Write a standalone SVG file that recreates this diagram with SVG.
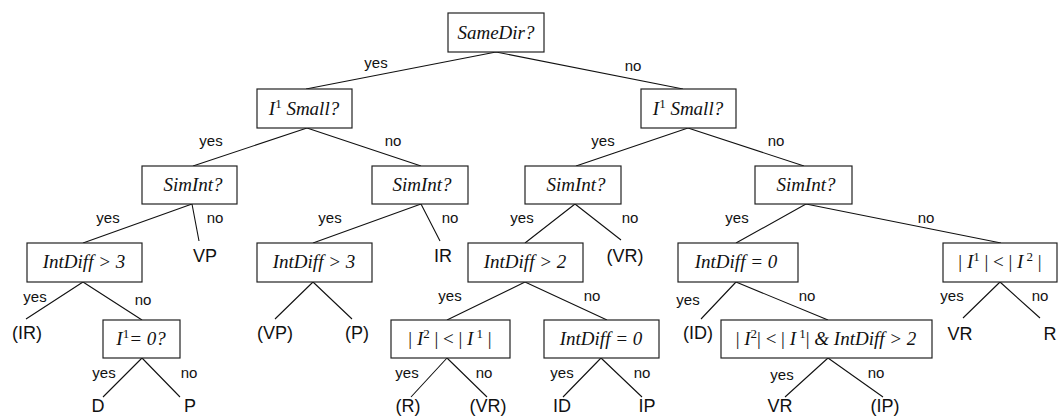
<svg xmlns="http://www.w3.org/2000/svg" width="1058" height="416" viewBox="0 0 1058 416">
  <style>
    .box { fill: #fff; stroke: #222; stroke-width: 1.2; }
    .q { font-family: "Liberation Serif", "Times New Roman", serif; font-style: italic; font-size: 19px; fill: #111; text-anchor: middle; }
    .up { font-style: normal; fill: #111; }
    .sup { font-style: normal; font-size: 13px; }
    .lbl { font-family: "Liberation Sans", Arial, sans-serif; font-size: 15px; fill: #111; text-anchor: middle; }
    .leaf { font-family: "Liberation Sans", Arial, sans-serif; font-size: 18px; fill: #111; text-anchor: middle; }
    .edge { stroke: #111; stroke-width: 1.1; fill: none; }
  </style>
  <rect width="1058" height="416" fill="#fff"/>

  <!-- connectors -->
  <g id="connectors" class="edge">
    <path d="M496 52 L306 89 M496 52 L683 89"/>
    <path d="M307 128 L193 166 M307 128 L421 166"/>
    <path d="M688 128 L576 166 M688 128 L804 166"/>
    <path d="M192 204 L83 243 M192 204 L199 241"/>
    <path d="M421 204 L313 243 M421 204 L440 241"/>
    <path d="M575 204 L525 243 M575 204 L621 240"/>
    <path d="M806 204 L736 243 M806 204 L1001 243"/>
    <path d="M83 282 L26 319 M83 282 L142 320"/>
    <path d="M313 282 L275 319 M313 282 L352 319"/>
    <path d="M525 282 L447 320 M525 282 L607 320"/>
    <path d="M736 282 L701 319 M736 282 L828 320"/>
    <path d="M1000 282 L963 318 M1000 282 L1040 318"/>
    <path d="M142 358 L103 397 M142 358 L180 397"/>
    <path d="M447 358 L411 397 M447 358 L487 397"/>
    <path d="M601 358 L563 397 M601 358 L642 397"/>
    <path d="M828 358 L785 397 M828 358 L883 397"/>
  </g>

  <!-- branch labels -->
  <g id="labels" class="lbl">
    <text x="376" y="68">yes</text>
    <text x="633" y="71">no</text>
    <text x="211" y="146">yes</text>
    <text x="393" y="146">no</text>
    <text x="603" y="146">yes</text>
    <text x="776" y="146">no</text>
    <text x="108" y="223">yes</text>
    <text x="215" y="223">no</text>
    <text x="330" y="223">yes</text>
    <text x="450" y="223">no</text>
    <text x="522" y="223">yes</text>
    <text x="630" y="223">no</text>
    <text x="737" y="223">yes</text>
    <text x="926" y="223">no</text>
    <text x="35" y="302">yes</text>
    <text x="143" y="305">no</text>
    <text x="450" y="301">yes</text>
    <text x="592" y="301">no</text>
    <text x="688" y="305">yes</text>
    <text x="807" y="301">no</text>
    <text x="952" y="301">yes</text>
    <text x="1040" y="301">no</text>
    <text x="104" y="378">yes</text>
    <text x="189" y="378">no</text>
    <text x="407" y="378">yes</text>
    <text x="484" y="378">no</text>
    <text x="562" y="378">yes</text>
    <text x="642" y="378">no</text>
    <text x="782" y="380">yes</text>
    <text x="876" y="378">no</text>
  </g>

  <!-- decision nodes -->
  <g id="n-samedir">
    <rect class="box" x="448" y="13" width="96" height="39"/>
    <text class="q" x="496" y="39">SameDir?</text>
  </g>
  <g id="n-small-left">
    <rect class="box" x="257" y="89" width="95" height="39"/>
    <text class="q" x="304" y="115">I<tspan class="sup" dy="-7">1</tspan><tspan dy="7"> Small?</tspan></text>
  </g>
  <g id="n-small-right">
    <rect class="box" x="641" y="89" width="95" height="39"/>
    <text class="q" x="688" y="115">I<tspan class="sup" dy="-7">1</tspan><tspan dy="7"> Small?</tspan></text>
  </g>
  <g id="n-simint-1">
    <rect class="box" x="142" y="166" width="95" height="38"/>
    <text class="q" x="193" y="191">SimInt?</text>
  </g>
  <g id="n-simint-2">
    <rect class="box" x="372" y="166" width="96" height="38"/>
    <text class="q" x="422" y="191">SimInt?</text>
  </g>
  <g id="n-simint-3">
    <rect class="box" x="525" y="166" width="96" height="38"/>
    <text class="q" x="576" y="191">SimInt?</text>
  </g>
  <g id="n-simint-4">
    <rect class="box" x="755" y="166" width="97" height="38"/>
    <text class="q" x="806" y="191">SimInt?</text>
  </g>
  <g id="n-intdiff3-a">
    <rect class="box" x="27" y="243" width="115" height="39"/>
    <text class="q" x="84" y="268">IntDiff &gt; 3</text>
  </g>
  <g id="n-intdiff3-b">
    <rect class="box" x="257" y="243" width="115" height="39"/>
    <text class="q" x="314" y="268">IntDiff &gt; 3</text>
  </g>
  <g id="n-intdiff2">
    <rect class="box" x="468" y="243" width="115" height="39"/>
    <text class="q" x="525" y="268">IntDiff &gt; 2</text>
  </g>
  <g id="n-intdiff0-a">
    <rect class="box" x="678" y="243" width="120" height="39"/>
    <text class="q" x="736" y="268">IntDiff = 0</text>
  </g>
  <g id="n-abs12">
    <rect class="box" x="943" y="243" width="114" height="39"/>
    <text class="q" x="1000" y="268"><tspan class="up">| </tspan>I<tspan class="sup" dy="-7">1</tspan><tspan class="up" dy="7"> | &lt; | </tspan>I<tspan class="sup" dy="-7"> 2</tspan><tspan class="up" dy="7"> |</tspan></text>
  </g>
  <g id="n-i1zero">
    <rect class="box" x="103" y="320" width="77" height="38"/>
    <text class="q" x="141" y="345">I<tspan class="sup" dy="-7">1</tspan><tspan dy="7">= 0?</tspan></text>
  </g>
  <g id="n-abs21">
    <rect class="box" x="391" y="320" width="119" height="38"/>
    <text class="q" x="450" y="345"><tspan class="up">| </tspan>I<tspan class="sup" dy="-7">2</tspan><tspan class="up" dy="7"> | &lt; | </tspan>I<tspan class="sup" dy="-7"> 1</tspan><tspan class="up" dy="7"> |</tspan></text>
  </g>
  <g id="n-intdiff0-b">
    <rect class="box" x="544" y="320" width="115" height="38"/>
    <text class="q" x="601" y="345">IntDiff = 0</text>
  </g>
  <g id="n-abs21-diff">
    <rect class="box" x="721" y="320" width="211" height="38"/>
    <text class="q" x="826" y="345"><tspan class="up">| </tspan>I<tspan class="sup" dy="-7">2</tspan><tspan class="up" dy="7">| &lt; | </tspan>I<tspan class="sup" dy="-7"> 1</tspan><tspan class="up" dy="7">|  </tspan>&amp; IntDiff &gt; 2</text>
  </g>

  <!-- outcome leaves -->
  <g id="leaves" class="leaf">
    <text id="l-vp" x="205" y="262">VP</text>
    <text id="l-ir" x="443" y="262">IR</text>
    <text id="l-vr-a" x="625" y="262">(VR)</text>
    <text id="l-ir-b" x="27" y="339">(IR)</text>
    <text id="l-vp-b" x="275" y="339">(VP)</text>
    <text id="l-p-b" x="357" y="339">(P)</text>
    <text id="l-id-b" x="698" y="339">(ID)</text>
    <text id="l-vr-b" x="960" y="340">VR</text>
    <text id="l-r-b" x="1050" y="340">R</text>
    <text id="l-d" x="98" y="412">D</text>
    <text id="l-p" x="190" y="412">P</text>
    <text id="l-r" x="408" y="412">(R)</text>
    <text id="l-vr-c" x="488" y="412">(VR)</text>
    <text id="l-id" x="562" y="412">ID</text>
    <text id="l-ip" x="647" y="412">IP</text>
    <text id="l-vr-d" x="780" y="412">VR</text>
    <text id="l-ip-b" x="885" y="412">(IP)</text>
  </g>
</svg>
